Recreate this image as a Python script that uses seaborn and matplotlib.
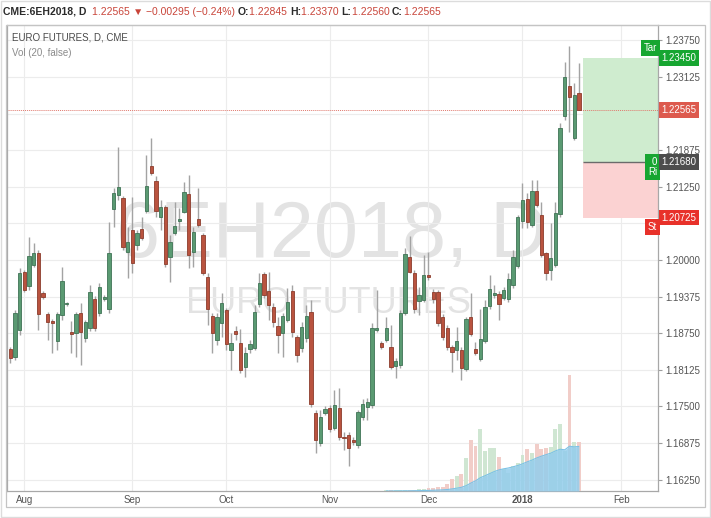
import numpy as np
import pandas as pd
import matplotlib.pyplot as plt
import matplotlib.transforms as mtransforms
from matplotlib.patches import Rectangle
from matplotlib.ticker import FixedLocator, FuncFormatter
import seaborn as sns

# 6EH2018 daily bars
first_day = "2017-07-27"
holidays = ["2017-09-04", "2017-11-23", "2017-12-25", "2018-01-01", "2018-01-15"]

opens = [1.1848, 1.1834, 1.1880, 1.1980, 1.1956, 1.1991, 1.2012, 1.1944, 1.1908, 1.1896,
         1.1862, 1.1906, 1.1925, 1.1877, 1.1875, 1.1910, 1.1867, 1.1884, 1.1933, 1.1910,
         1.1933, 1.1916, 1.2087, 1.2111, 1.2106, 1.2014, 1.2051, 1.2026, 1.2053, 1.2084,
         1.2160, 1.2135, 1.2073, 1.2090, 1.2005, 1.2046, 1.2067, 1.2082, 1.2113, 1.2014,
         1.2070, 1.2043, 1.1971, 1.1904, 1.1863, 1.1892, 1.1915, 1.1846, 1.1879, 1.1858,
         1.1817, 1.1848, 1.1850, 1.1925, 1.1976, 1.1947, 1.1920, 1.1887, 1.1875, 1.1898,
         1.1947, 1.1868, 1.1850, 1.1867, 1.1911, 1.1739, 1.1687, 1.1739, 1.1747, 1.1713,
         1.1747, 1.1698, 1.1701, 1.1692, 1.1684, 1.1732, 1.1749, 1.1752, 1.1880, 1.1858,
         1.1863, 1.1851, 1.1819, 1.1821, 1.1910, 1.2005, 1.1978, 1.1930, 1.1932, 1.1975,
         1.1945, 1.1945, 1.1903, 1.1884, 1.1851, 1.1846, 1.1846, 1.1814, 1.1903, 1.1848,
         1.1831, 1.1862, 1.1921, 1.1940, 1.1942, 1.1935, 1.1933, 1.1957, 1.1990, 1.2067,
         1.2104, 1.2060, 1.2118, 1.2077, 1.2012, 1.1983, 1.1991, 1.2078, 1.2246, 1.2297,
         1.2208, 1.22845]
highs = [1.1851, 1.1915, 1.1986, 1.1983, 1.2039, 1.2029, 1.2017, 1.1947, 1.1911, 1.1899,
         1.1911, 1.1988, 1.1928, 1.1896, 1.1911, 1.1927, 1.1898, 1.1957, 1.1938, 1.1961,
         1.1940, 1.2065, 1.2123, 1.2193, 1.2109, 1.2056, 1.2108, 1.2051, 1.2073, 1.2179,
         1.2208, 1.2143, 1.2102, 1.2094, 1.2043, 1.2099, 1.2089, 1.2133, 1.2145, 1.2056,
         1.2123, 1.2046, 1.1978, 1.1910, 1.1910, 1.1944, 1.1918, 1.1875, 1.1887, 1.1882,
         1.1851, 1.1863, 1.1923, 1.1978, 1.1979, 1.1979, 1.1927, 1.1903, 1.1910, 1.1952,
         1.1957, 1.1872, 1.1894, 1.1923, 1.1932, 1.1744, 1.1744, 1.1751, 1.1752, 1.1778,
         1.1781, 1.1706, 1.1706, 1.1697, 1.1744, 1.1763, 1.1764, 1.1892, 1.1949, 1.1862,
         1.1903, 1.1889, 1.1833, 1.1915, 1.2020, 1.2041, 1.1983, 1.1954, 1.2009, 1.2014,
         1.1950, 1.1949, 1.1908, 1.1889, 1.1855, 1.1886, 1.1851, 1.1903, 1.1944, 1.1860,
         1.1916, 1.1932, 1.1974, 1.1957, 1.1947, 1.1954, 1.1978, 1.2017, 1.2077, 1.2131,
         1.2114, 1.2137, 1.2137, 1.2099, 1.2014, 1.2063, 1.2099, 1.2234, 1.2338, 1.2365,
         1.2302, 1.23370]
lows = [1.1824, 1.1829, 1.1872, 1.1946, 1.1949, 1.1988, 1.1880, 1.1934, 1.1863, 1.1841,
        1.1846, 1.1898, 1.1921, 1.1841, 1.1834, 1.1821, 1.1860, 1.1879, 1.1879, 1.1904,
        1.1930, 1.1910, 1.2056, 1.2102, 1.2017, 1.1969, 1.1978, 1.2017, 1.2034, 1.2080,
        1.2145, 1.2073, 1.2051, 1.1988, 1.1962, 1.2043, 1.2051, 1.2080, 1.1986, 1.1988,
        1.2056, 1.1974, 1.1889, 1.1841, 1.1855, 1.1868, 1.1846, 1.1812, 1.1863, 1.1807,
        1.1800, 1.1841, 1.1846, 1.1920, 1.1935, 1.1898, 1.1886, 1.1841, 1.1834, 1.1894,
        1.1868, 1.1826, 1.1843, 1.1860, 1.1749, 1.1670, 1.1682, 1.1735, 1.1706, 1.1710,
        1.1692, 1.1675, 1.1648, 1.1684, 1.1679, 1.1727, 1.1727, 1.1747, 1.1877, 1.1848,
        1.1860, 1.1814, 1.1798, 1.1815, 1.1906, 1.1978, 1.1910, 1.1906, 1.1928, 1.1966,
        1.1927, 1.1887, 1.1863, 1.1846, 1.1809, 1.1829, 1.1795, 1.1810, 1.1870, 1.1838,
        1.1828, 1.1858, 1.1916, 1.1935, 1.1898, 1.1932, 1.1928, 1.1952, 1.1986, 1.2055,
        1.2055, 1.2056, 1.2090, 1.2005, 1.1966, 1.1966, 1.1988, 1.2073, 1.2239, 1.2219,
        1.2205, 1.22560]
closes = [1.1832, 1.1910, 1.1978, 1.1949, 1.2007, 1.2012, 1.1908, 1.1937, 1.1894, 1.1892,
          1.1908, 1.1964, 1.1926, 1.1873, 1.1908, 1.1877, 1.1894, 1.1945, 1.1884, 1.1954,
          1.1937, 1.2012, 1.2114, 1.2125, 1.2022, 1.2031, 1.1995, 1.2046, 1.2038, 1.2126,
          1.2148, 1.2084, 1.2090, 1.1993, 1.2031, 1.2058, 1.2070, 1.2116, 1.2009, 1.2048,
          1.2060, 1.1978, 1.1916, 1.1875, 1.1903, 1.1927, 1.1856, 1.1858, 1.1874, 1.1812,
          1.1841, 1.1856, 1.1911, 1.1961, 1.1940, 1.1923, 1.1894, 1.1872, 1.1904, 1.1928,
          1.1877, 1.1838, 1.1886, 1.1904, 1.1754, 1.1692, 1.1732, 1.1745, 1.1711, 1.1752,
          1.1698, 1.1696, 1.1679, 1.1689, 1.1741, 1.1754, 1.1757, 1.1884, 1.1884, 1.1851,
          1.1884, 1.1817, 1.1827, 1.1910, 1.2010, 1.1980, 1.1916, 1.1940, 1.1975, 1.1971,
          1.1933, 1.1892, 1.1868, 1.1851, 1.1843, 1.1862, 1.1815, 1.1899, 1.1874, 1.1841,
          1.1865, 1.1920, 1.1950, 1.1944, 1.1925, 1.1949, 1.1968, 1.2005, 1.2073, 1.2102,
          1.2065, 1.2118, 1.2094, 1.2009, 1.1978, 1.2003, 1.2080, 1.2225, 1.2312, 1.2278,
          1.2282, 1.22565]
# volume in arbitrary units (the March contract barely traded before December)
volumes = [0, 0, 0, 0, 0, 0, 0, 0, 0, 0,
           0, 0, 0, 0, 0, 0, 0, 0, 0, 0,
           0, 0, 0, 0, 0, 0, 0, 0, 0, 0,
           0, 0, 0, 0, 0, 0, 0, 0, 0, 0,
           0, 0, 0, 0, 0, 0, 0, 0, 0, 0,
           0, 0, 0, 0, 0, 0, 0, 0, 0, 0,
           0, 0, 0, 0, 0, 0, 0, 0, 0, 0,
           0, 0, 0, 0, 0, 0, 0, 0, 0, 0,
           0.5, 0.6, 0.6, 0.8, 1.0, 1.1, 1.3, 1.6, 2.0, 2.5,
           3.0, 3.5, 4, 7, 12, 15, 17, 33, 51, 45,
           62, 40, 43, 43, 34, 22, 18, 25, 28, 36,
           42, 38, 47, 42, 43, 44, 62, 67, 40, 116,
           49, 49]

last_price = 1.22565
entry_price = 1.21680
target_price = 1.23450
stop_price = 1.20725
price_ticks = [1.16250, 1.16875, 1.17500, 1.18125, 1.18750, 1.19375, 1.20000,
               1.20625, 1.21250, 1.21875, 1.22500, 1.23125, 1.23750]
hidden_ticks = [1.20625, 1.22500]   # covered by the price tags

header = [("CME:6EH2018, D  ", "#2b2b2b", "bold"), ("1.22565 ", "#c9453a", "normal"),
          ("\u25bc ", "#c9453a", "normal"), ("\u22120.00295 (\u22120.24%) ", "#c9453a", "normal"),
          ("O:", "#2b2b2b", "bold"), ("1.22845 ", "#c9453a", "normal"),
          ("H:", "#2b2b2b", "bold"), ("1.23370 ", "#c9453a", "normal"),
          ("L:", "#2b2b2b", "bold"), ("1.22560 ", "#c9453a", "normal"),
          ("C:", "#2b2b2b", "bold"), ("1.22565", "#c9453a", "normal")]

GREEN, GREEN_EDGE = "#5a9a72", "#3f7355"
RED, RED_EDGE = "#b9533f", "#8c3c2c"

n = len(opens)
bday = pd.offsets.CustomBusinessDay(holidays=holidays)
dates = pd.date_range(first_day, periods=n + 20, freq=bday)
df = pd.DataFrame({"idx": np.arange(n), "open": opens, "high": highs, "low": lows,
                   "close": closes, "volume": volumes})
df["dir"] = np.where(df["close"] >= df["open"], "up", "down")
df["vol_ma"] = df["volume"].rolling(20, min_periods=1).mean()

month_pos = [i for i in range(1, len(dates)) if dates[i].month != dates[i - 1].month]
month_lab = [str(dates[i].year) if dates[i].month == 1 else dates[i].strftime("%b") for i in month_pos]

sns.set_theme(style="white")
plt.rcParams["font.family"] = ["Liberation Sans", "DejaVu Sans"]

W, H = 711, 518
fig = plt.figure(figsize=(W / 100, H / 100), dpi=100)
fig.patch.set_facecolor("white")


def fx(x):
    return x / W


def fy(y):
    return 1 - y / H


rect = [fx(7), fy(491), fx(658) - fx(7), fy(25) - fy(491)]
ax = fig.add_axes(rect)
axv = fig.add_axes(rect)
axv.set_zorder(ax.get_zorder() + 1)
axv.patch.set_alpha(0)

xlim = (-0.68, 137.83)
ylim = (1.16054, 1.24013)

# watermark
ax.text(0.499, 0.502, "6EH2018, D", transform=ax.transAxes, fontsize=57, color="#e3e3e3",
        ha="center", va="baseline", zorder=0)
ax.text(0.494, 0.382, "EURO FUTURES", transform=ax.transAxes, fontsize=26, color="#e3e3e3",
        ha="center", va="baseline", zorder=0)

# long position tool
tool_x0 = n - 0.2
ax.add_patch(Rectangle((tool_x0, entry_price), 40, target_price - entry_price,
                       facecolor="#cfeccf", edgecolor="none", zorder=1))
ax.add_patch(Rectangle((tool_x0, stop_price), 40, entry_price - stop_price,
                       facecolor="#fbd2d2", edgecolor="none", zorder=1))
ax.hlines(entry_price, tool_x0, 150, color="#6b6b6b", lw=1, zorder=2)

# last price line
ax.axhline(last_price, color="#e0796e", lw=0.7, ls=(0, (1, 1)), zorder=2)

# candles
up = df["dir"] == "up"
ax.vlines(df["idx"], df["low"], df["high"], color="#a3a3a3", lw=1, zorder=3)
body = np.maximum((df["close"] - df["open"]).abs(), 0.00015)
ax.bar(df["idx"], body, bottom=df[["open", "close"]].min(axis=1), width=0.72,
       color=np.where(up, GREEN, RED), edgecolor=np.where(up, GREEN_EDGE, RED_EDGE),
       linewidth=0.6, zorder=4)

ax.set_xlim(xlim)
ax.set_ylim(ylim)
ax.yaxis.tick_right()
ax.yaxis.set_major_locator(FixedLocator(price_ticks))
ax.yaxis.set_major_formatter(FuncFormatter(
    lambda v, pos: "" if any(abs(v - h) < 1e-6 for h in hidden_ticks) else f"{v:.5f}"))
ax.set_xticks(month_pos)
ax.set_xticklabels(month_lab)
for t in ax.get_xticklabels():
    if t.get_text() == "2018":
        t.set_fontweight("bold")
ax.tick_params(axis="y", labelsize=7, labelcolor="#555555", color="#9e9e9e",
               length=3, width=0.8, pad=2, right=True, left=False)
ax.tick_params(axis="x", labelsize=7, labelcolor="#555555", length=0, pad=3)
ax.grid(True, color="#ececec", lw=0.8)
ax.set_axisbelow(True)
for side, sp in ax.spines.items():
    sp.set_color("#a8a8a8")
    sp.set_linewidth(0.9)
ax.spines["top"].set_color("#cfcfcf")
ax.set_xlabel("")
ax.set_ylabel("")

# volume pane with its 20-bar average
axv.bar(df["idx"], df["volume"], width=0.85, color=np.where(up, "#cfe6d2", "#f1cdc8"),
        edgecolor="none", zorder=2)
axv.fill_between(df["idx"], 0, df["vol_ma"], where=df["vol_ma"] > 0, color="#93cdec",
                 alpha=0.85, lw=0, zorder=3)
sns.lineplot(data=df[df["vol_ma"] > 0], x="idx", y="vol_ma", color="#7cc2e6", lw=0.8,
             ax=axv, zorder=4)
axv.set_xlim(xlim)
axv.set_ylim(0, max(volumes) * 4.0)
axv.axis("off")

# price tags on the scale
blend = mtransforms.blended_transform_factory(ax.transAxes, ax.transData)


def tag(price, text, color):
    ax.annotate(text, xy=(1, price), xycoords=blend, xytext=(2.5, 0), textcoords="offset points",
                ha="left", va="center", fontsize=7, color="white", annotation_clip=False,
                bbox=dict(boxstyle="square,pad=0.3", fc=color, ec="none"), zorder=20)


def side_tag(price, text, color, dy):
    ax.annotate(text, xy=(1, price), xycoords=blend, xytext=(-0.5, dy), textcoords="offset points",
                ha="right", va="center", fontsize=7, color="white", annotation_clip=False,
                linespacing=1.0, bbox=dict(boxstyle="square,pad=0.3", fc=color, ec="none"), zorder=20)


side_tag(target_price, "Tar", "#17a631", 7)
side_tag(entry_price, "0\nRi", "#17a631", -4)
side_tag(stop_price, "St", "#e8312a", -7)
tag(target_price, "1.23450", "#17a631")
tag(last_price, "1.22565", "#dd5a4e")
tag(entry_price, "1.21680", "#4d4d4d")
tag(stop_price, "1.20725", "#e8312a")

# legend text in the pane
fig.text(fx(12), fy(37), "EURO FUTURES, D, CME", fontsize=7, color="#4a4a4a", va="center")
fig.text(fx(12), fy(53), "Vol (20, false)", fontsize=7, color="#8a8a8a", va="center")

# header line, pieces laid side by side
renderer = fig.canvas.get_renderer()
x0 = fx(3)
for text, color, weight in header:
    t = fig.text(x0, fy(12), text, fontsize=7.5, color=color, fontweight=weight, va="center")
    bb = t.get_window_extent(renderer)
    x0 += bb.width / W

# frames
fig.add_artist(Rectangle((fx(6), fy(507)), fx(705) - fx(6), fy(25) - fy(507), fill=False,
                         ec="#c4c4c4", lw=0.9, transform=fig.transFigure))
fig.add_artist(Rectangle((0.001, 0.001), 0.998, 0.998, fill=False, ec="#dcdcdc", lw=1,
                         transform=fig.transFigure))

fig.savefig("out.png", dpi=100)
